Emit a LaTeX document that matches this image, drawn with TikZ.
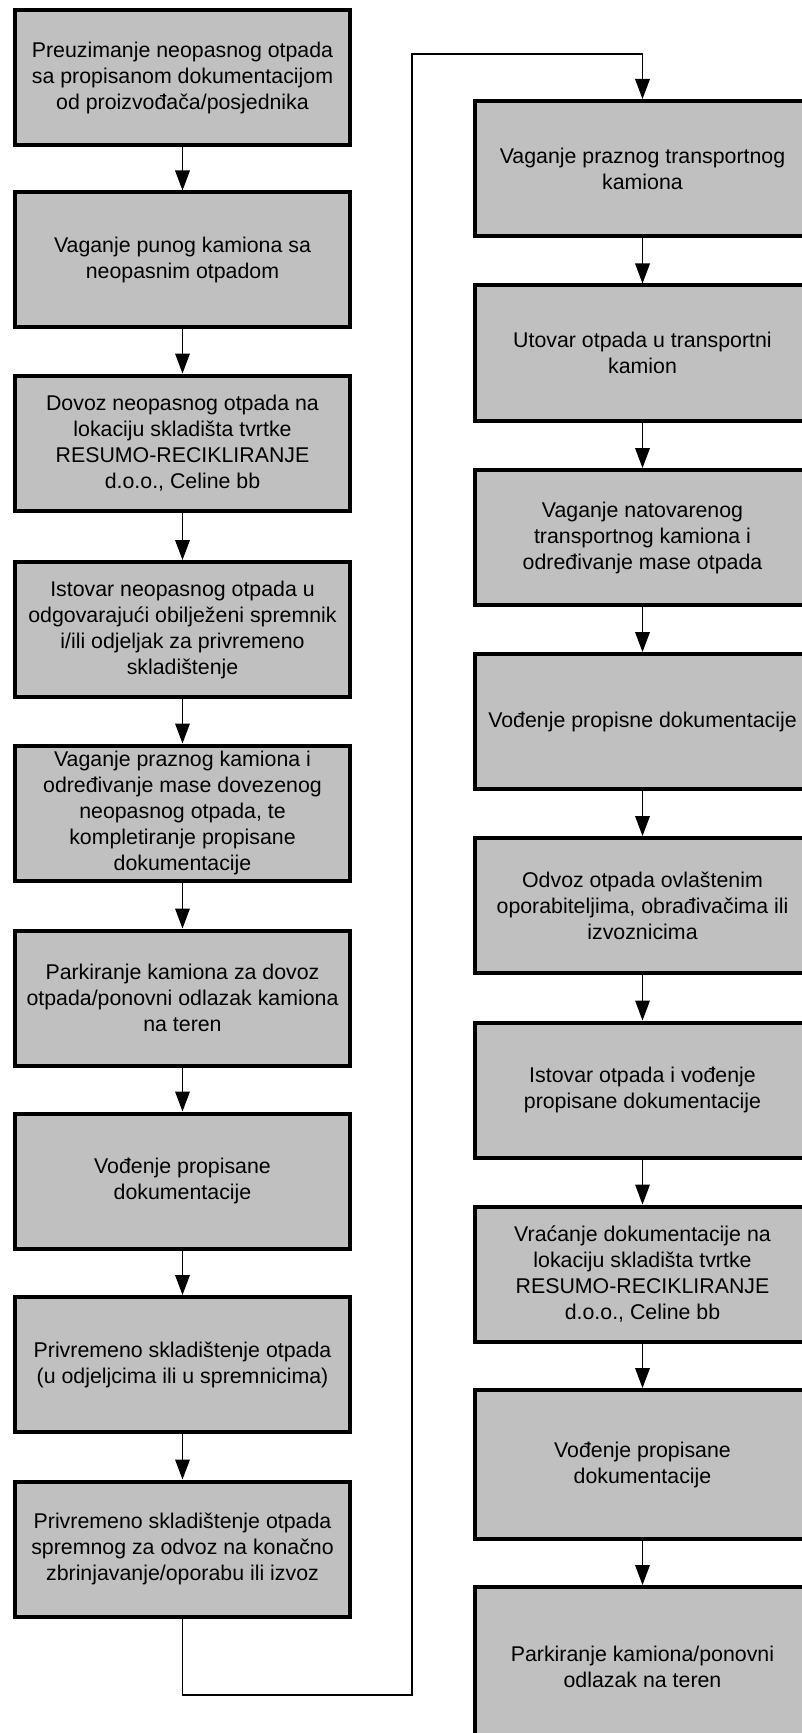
\documentclass[tikz,border=0pt]{standalone}
\usepackage{fontspec}
\setmainfont{Liberation Sans}
\usetikzlibrary{arrows.meta}

\tikzset{every picture/.style={line width=0.75pt}}
\tikzset{
  korak/.style={draw=black, fill={rgb,255:red,192;green,192;blue,192}, line width=3pt,
    minimum width=251.25pt, minimum height=101.25pt, inner sep=0pt, align=center,
    font=\fontsize{16}{19.5}\selectfont},
  tok/.style={line width=0.9pt, -{Triangle[length=15pt,width=11pt]}}
}

\begin{document}
\begin{tikzpicture}[x=0.75pt,y=0.75pt,yscale=-1,xscale=1]
\useasboundingbox (0,0) rectangle (802,1733);
\clip (0,0) rectangle (802,1733);

% Lijevi stupac
\node [korak] (l1) at (182.5,78) {Preuzimanje neopasnog otpada\\sa propisanom dokumentacijom\\od proizvođača/posjednika};
\node [korak] (l2) at (182.5,260) {Vaganje punog kamiona sa\\neopasnim otpadom};
\node [korak] (l3) at (182.5,443) {Dovoz neopasnog otpada na\\lokaciju skladišta tvrtke\\RESUMO-RECIKLIRANJE\\d.o.o., Celine bb};
\node [korak] (l4) at (182.5,629.5) {Istovar neopasnog otpada u\\odgovarajući obilježeni spremnik\\i/ili odjeljak za privremeno\\skladištenje};
\node [korak] (l5) at (182.5,813) {Vaganje praznog kamiona i\\određivanje mase dovezenog\\neopasnog otpada, te\\kompletiranje propisane\\dokumentacije};
\node [korak] (l6) at (182.5,998) {Parkiranje kamiona za dovoz\\otpada/ponovni odlazak kamiona\\na teren};
\node [korak] (l7) at (182.5,1181) {Vođenje propisane\\dokumentacije};
\node [korak] (l8) at (182.5,1364.5) {Privremeno skladištenje otpada\\(u odjeljcima ili u spremnicima)};
\node [korak] (l9) at (182.5,1549) {Privremeno skladištenje otpada\\spremnog za odvoz na konačno\\zbrinjavanje/oporabu ili izvoz};

% Desni stupac
\node [korak] (r1) at (642.5,168.5) {Vaganje praznog transportnog\\kamiona};
\node [korak] (r2) at (642.5,353) {Utovar otpada u transportni\\kamion};
\node [korak] (r3) at (642.5,537.5) {Vaganje natovarenog\\transportnog kamiona i\\određivanje mase otpada};
\node [korak] (r4) at (642.5,721.5) {Vođenje propisne dokumentacije};
\node [korak] (r5) at (642.5,905.5) {Odvoz otpada ovlaštenim\\oporabiteljima, obrađivačima ili\\izvoznicima};
\node [korak] (r6) at (642.5,1090) {Istovar otpada i vođenje\\propisane dokumentacije};
\node [korak] (r7) at (642.5,1274) {Vraćanje dokumentacije na\\lokaciju skladišta tvrtke\\RESUMO-RECIKLIRANJE\\d.o.o., Celine bb};
\node [korak, minimum height=111.75pt] (r8) at (642.5,1464.5) {Vođenje propisane\\dokumentacije};
\node [korak, minimum height=120pt] (r9) at (642.5,1667) {Parkiranje kamiona/ponovni\\odlazak na teren};

% Strelice
\foreach \a/\b in {1/2,2/3,3/4,4/5,5/6,6/7,7/8,8/9}{
  \draw [tok] (l\a) -- (l\b);
  \draw [tok] (r\a) -- (r\b);
}

% Prijelaz na desni stupac
\coordinate (dolje) at (412,1695);
\coordinate (gore) at (412,54);
\draw [tok] (l9.south) |- (dolje) -- (gore) -| (r1.north);

\end{tikzpicture}
\end{document}
